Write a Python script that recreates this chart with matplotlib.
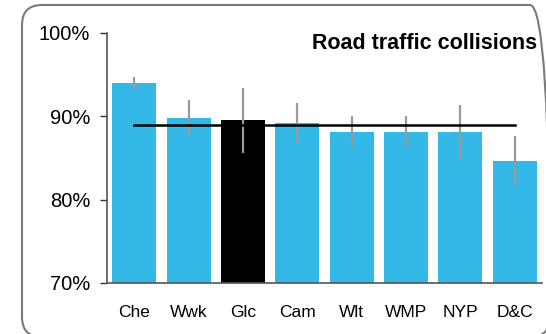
import matplotlib.pyplot as plt
import numpy as np
from matplotlib.patches import FancyBboxPatch

plt.rcParams['font.family'] = ['Liberation Sans', 'DejaVu Sans']

regioes = ['Che', 'Wwk', 'Glc', 'Cam', 'Wlt', 'WMP', 'NYP', 'D&C']
valores = [94.0, 89.8, 89.6, 89.2, 88.1, 88.1, 88.1, 84.6]
erro_sup = [94.7, 92.0, 93.4, 91.6, 90.1, 90.1, 91.4, 87.6]
erro_inf = [93.3, 87.6, 85.6, 86.8, 86.3, 86.3, 84.8, 81.8]
media = 88.9
destaque = 'Glc'

azul = '#33b8e7'
cores = ['black' if r == destaque else azul for r in regioes]

fig = plt.figure(figsize=(5.46, 3.34), dpi=100)

# moldura arredondada (em polegadas, para o canto ficar redondo)
moldura = FancyBboxPatch((0.22, -0.03), 5.28, 3.32,
                         boxstyle='round,pad=0,rounding_size=0.2',
                         transform=fig.dpi_scale_trans, facecolor='none',
                         edgecolor='#7a7a7a', linewidth=1.5)
fig.patches.append(moldura)

ax = fig.add_axes([107 / 546, 1 - 283 / 334, 435 / 546, 250 / 334])
x = np.arange(len(regioes))
ax.bar(x, np.array(valores) - 70, bottom=70, width=0.81, color=cores, zorder=2)

baixo = np.array(valores) - np.array(erro_inf)
cima = np.array(erro_sup) - np.array(valores)
ax.errorbar(x, valores, yerr=[baixo, cima], fmt='none', ecolor='#9a9a9a',
            elinewidth=1.6, capsize=0, zorder=3)

ax.plot([x[0], x[-1]], [media, media], color='black', linewidth=1.8, zorder=4)

ax.set_xlim(-0.5, len(regioes) - 0.5)
ax.set_ylim(70, 100)
ax.set_yticks([70, 80, 90, 100])
ax.set_yticklabels(['70%', '80%', '90%', '100%'])
ax.set_xticks(x)
ax.set_xticklabels(regioes)

for lado in ['top', 'right']:
    ax.spines[lado].set_visible(False)
for lado in ['left', 'bottom']:
    ax.spines[lado].set_color('#555555')
    ax.spines[lado].set_linewidth(1.2)

ax.tick_params(axis='y', length=5, width=1, color='#333333', pad=7, labelsize=14.5)
ax.tick_params(axis='x', length=0, pad=16, labelsize=12.5)

fig.text(537 / 546, 1 - 49 / 334, 'Road traffic collisions', ha='right', va='baseline',
         fontsize=15.5, fontweight='bold')

fig.savefig('out.png', dpi=100)
